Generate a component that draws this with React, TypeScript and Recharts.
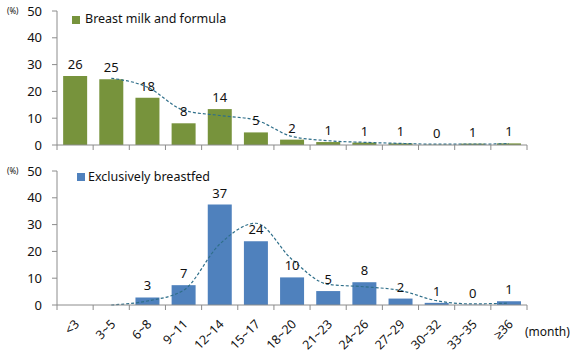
import React from 'react'
import { ComposedChart, Bar, Line, XAxis, YAxis, LabelList } from 'recharts'

const categories = ['<3', '3~5', '6~8', '9~11', '12~14', '15~17', '18~20', '21~23', '24~26', '27~29', '30~32', '33~35', '≥36']
const yTicks = [0, 10, 20, 30, 40, 50]

// top panel
const formulaValues = [25.7, 24.5, 17.6, 8.1, 13.4, 4.7, 2.0, 1.1, 0.9, 0.6, 0.1, 0.5, 0.6]
const formulaLabels = [26, 25, 18, 8, 14, 5, 2, 1, 1, 1, 0, 1, 1]
const formulaTrend = [null, 24.9, 21.6, 13.0, 11.0, 9.3, 3.2, 1.6, 1.0, 0.6, 0.3, 0.3, 0.5]

// bottom panel
const breastfedValues = [null, null, 2.8, 7.4, 37.5, 23.8, 10.3, 5.2, 8.5, 2.4, 0.8, 0.1, 1.4]
const breastfedLabels = [null, null, 3, 7, 37, 24, 10, 5, 8, 2, 1, 0, 1]
const breastfedTrend = [null, 0, 1.5, 5.5, 22.7, 30.5, 17.0, 7.7, 6.8, 5.4, 1.6, 0.4, 0.7]

const formulaData = categories.map((c, i) => ({
    cat: c,
    value: formulaValues[i],
    label: formulaLabels[i],
    trend: formulaTrend[i]
}))

const breastfedData = categories.map((c, i) => ({
    cat: c,
    value: breastfedValues[i],
    label: breastfedLabels[i],
    trend: breastfedTrend[i]
}))

const FONT = '"Noto Sans", sans-serif'
const axisGray = '#8c8c8c'
const trendColor = '#2f6f8a'
const step = 470 / 13

const BoundaryTick = (props: any) => {
    const { x, y, index, payload, showLabel } = props
    const tx = x + 5
    const ty = y + 20
    return (
        <g>
            <line x1={x - step / 2} x2={x - step / 2} y1={y} y2={y + 5} stroke={axisGray} />
            {index === categories.length - 1 && (
                <line x1={x + step / 2} x2={x + step / 2} y1={y} y2={y + 5} stroke={axisGray} />
            )}
            {showLabel && (
                <text
                    x={tx}
                    y={ty}
                    transform={`rotate(-45 ${tx} ${ty})`}
                    textAnchor="end"
                    fontSize={12.5}
                    fontFamily={FONT}
                    fill="#111">
                    {payload.value}
                </text>
            )}
        </g>
    )
}

const ValueLabel = (props: any) => {
    const { x, y, width, value } = props
    if (value == null) return null
    return (
        <text x={x + width / 2} y={y - 7} textAnchor="middle" fontSize={13} fontFamily={FONT} fill="#111">
            {value}
        </text>
    )
}

const Panel = ({ data, color, height, showLabels }: any) => (
    <ComposedChart
        width={573}
        height={height}
        data={data}
        barCategoryGap="17%"
        margin={{ top: 11, right: 46, bottom: 0, left: 0 }}>
        <XAxis
            dataKey="cat"
            interval={0}
            height={height - 145}
            stroke={axisGray}
            tickLine={false}
            tickSize={0}
            tickMargin={0}
            tick={<BoundaryTick showLabel={showLabels} />} />
        <YAxis
            domain={[0, 50]}
            ticks={yTicks}
            width={57}
            stroke={axisGray}
            tickSize={5}
            tickMargin={10}
            tick={{ fontSize: 13, fill: '#111', fontFamily: FONT }} />
        <Bar dataKey="value" fill={color} isAnimationActive={false}>
            <LabelList dataKey="label" content={<ValueLabel />} />
        </Bar>
        <Line
            dataKey="trend"
            type="monotone"
            stroke={trendColor}
            strokeWidth={1.2}
            strokeDasharray="3 2"
            dot={false}
            activeDot={false}
            isAnimationActive={false} />
    </ComposedChart>
)

const legendText: React.CSSProperties = {
    position: 'absolute',
    fontFamily: FONT,
    fontSize: 12.5,
    color: '#111',
    lineHeight: '16px',
    whiteSpace: 'nowrap'
}

export default function App() {
    return (
        <div style={{ position: 'absolute', left: 0, top: 0, width: 573, height: 357, background: '#fff' }}>
            <div style={{ position: 'absolute', left: 0, top: 0 }}>
                <Panel data={formulaData} color="#77933c" height={160} showLabels={false} />
            </div>
            <div style={{ position: 'absolute', left: 0, top: 160 }}>
                <Panel data={breastfedData} color="#4f81bd" height={197} showLabels={true} />
            </div>

            <div style={{ ...legendText, left: 7, top: 3, fontSize: 8 }}>(%)</div>
            <div style={{ ...legendText, left: 7, top: 163, fontSize: 8 }}>(%)</div>

            <div style={{ position: 'absolute', left: 72, top: 16, width: 8, height: 8, background: '#77933c' }} />
            <div style={{ ...legendText, left: 85, top: 11 }}>Breast milk and formula</div>

            <div style={{ position: 'absolute', left: 77, top: 173, width: 8, height: 8, background: '#4f81bd' }} />
            <div style={{ ...legendText, left: 88, top: 169 }}>Exclusively breastfed</div>

            <div style={{ ...legendText, left: 525, top: 324, fontSize: 12 }}>(month)</div>
        </div>
    )
}
